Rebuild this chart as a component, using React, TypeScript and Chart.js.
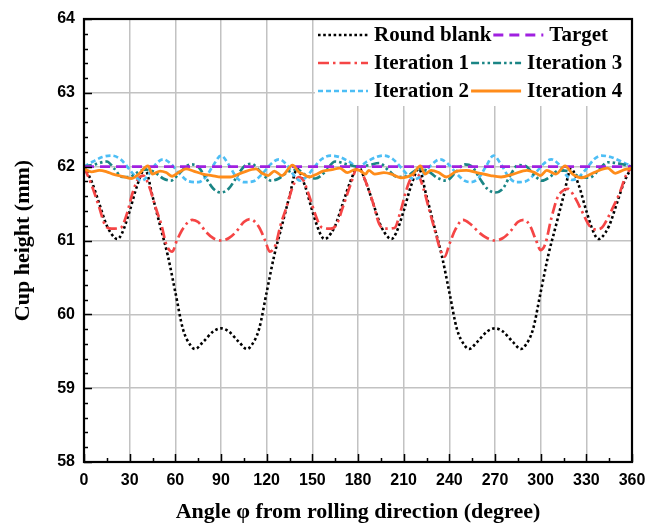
import React, { useEffect, useRef } from 'react';
import { Chart, registerables } from 'chart.js';

Chart.register(...registerables);

// ---------------- data ----------------
const xTicks = [0, 30, 60, 90, 120, 150, 180, 210, 240, 270, 300, 330, 360];
const yTicks = [58, 59, 60, 61, 62, 63, 64];

const blankAngles = [0, 5, 10, 15, 20, 22, 25, 30, 35, 40, 45, 50, 55, 60, 65, 70, 73, 78, 85, 90, 95, 102, 107, 110, 115, 120, 125, 130, 135, 140, 145, 150, 155, 158, 160, 165, 170, 175, 180,
  185, 190, 195, 200, 202, 205, 210, 215, 220, 225, 230, 235, 240, 245, 250, 253, 258, 265, 270, 275, 282, 287, 290, 295, 300, 305, 310, 315, 320, 325, 330, 335, 338, 340, 345, 350, 355, 360];
const blankValues = [62.0, 61.8, 61.5, 61.2, 61.04, 61.02, 61.1, 61.4, 61.75, 61.97, 61.6, 61.2, 60.8, 60.3, 59.8, 59.58, 59.53, 59.62, 59.77, 59.81, 59.77, 59.62, 59.53, 59.58, 59.8, 60.3, 60.8, 61.2, 61.6, 61.97, 61.75, 61.4, 61.1, 61.02, 61.04, 61.2, 61.5, 61.8, 62.0,
  61.8, 61.5, 61.2, 61.04, 61.02, 61.1, 61.4, 61.75, 61.97, 61.6, 61.2, 60.8, 60.3, 59.8, 59.58, 59.53, 59.62, 59.77, 59.81, 59.77, 59.62, 59.53, 59.58, 59.8, 60.3, 60.8, 61.2, 61.6, 61.97, 61.75, 61.4, 61.1, 61.02, 61.04, 61.2, 61.5, 61.8, 62.0];

const targetAngles = [0, 360];
const targetValues = [62, 62];

const iter1Angles = [0, 5, 10, 14, 18, 24, 28, 32, 36, 39, 43, 47, 51, 54, 58, 61, 65, 71, 75, 80, 85, 90, 95, 100, 105, 109, 115, 119, 122, 126, 129, 133, 137, 141, 144, 148, 152, 156, 162, 166, 170, 175, 180,
  185, 190, 194, 198, 204, 208, 212, 216, 219, 223, 227, 231, 234, 237, 240, 244, 249, 254, 260, 265, 270, 275, 280, 285, 289, 293, 297, 300, 303, 307, 311, 315, 318, 322, 327, 332, 336, 340, 344, 348, 352, 356, 360];
const iter1Values = [62.0, 61.75, 61.45, 61.2, 61.16, 61.17, 61.35, 61.65, 61.85, 61.88, 61.72, 61.45, 61.2, 60.95, 60.85, 61.0, 61.16, 61.28, 61.25, 61.12, 61.03, 61.0, 61.03, 61.12, 61.25, 61.29, 61.18, 61.0, 60.85, 60.95, 61.2, 61.45, 61.72, 61.86, 61.82, 61.6, 61.35, 61.18, 61.16, 61.22, 61.45, 61.75, 62.0,
  61.8, 61.5, 61.22, 61.16, 61.17, 61.4, 61.7, 61.88, 61.9, 61.7, 61.4, 61.1, 60.88, 60.78, 60.95, 61.15, 61.28, 61.22, 61.1, 61.03, 61.0, 61.03, 61.12, 61.25, 61.28, 61.2, 61.0, 60.87, 60.95, 61.3, 61.58, 61.68, 61.7, 61.6, 61.4, 61.2, 61.15, 61.17, 61.3, 61.47, 61.65, 61.88, 62.0];

const iter2Angles = [0, 6, 12, 18, 24, 30, 34, 38, 42, 47, 52, 57, 63, 69, 75, 80, 85, 90, 95, 100, 105, 111, 117, 123, 128, 133, 138, 142, 146, 150, 156, 162, 168, 174, 180,
  186, 192, 197, 203, 209, 213, 217, 222, 228, 234, 239, 245, 250, 254, 259, 264, 269, 274, 279, 284, 290, 296, 302, 307, 312, 317, 321, 325, 330, 335, 340, 346, 353, 360];
const iter2Values = [62.0, 62.07, 62.13, 62.15, 62.1, 61.96, 61.86, 61.81, 61.88, 62.03, 62.1, 62.04, 61.9, 61.8, 61.79, 61.86, 62.02, 62.15, 62.03, 61.86, 61.79, 61.8, 61.9, 62.04, 62.1, 62.03, 61.88, 61.81, 61.86, 61.96, 62.1, 62.15, 62.13, 62.07, 62.0,
  62.07, 62.13, 62.15, 62.1, 61.97, 61.88, 61.83, 61.88, 62.02, 62.1, 62.04, 61.9, 61.81, 61.79, 61.84, 62.0, 62.15, 62.03, 61.86, 61.79, 61.8, 61.9, 62.04, 62.1, 62.03, 61.88, 61.82, 61.86, 61.97, 62.1, 62.15, 62.13, 62.07, 62.0];

const iter3Angles = [0, 7, 15, 20, 25, 30, 35, 40, 46, 52, 57, 63, 70, 75, 80, 85, 90, 95, 100, 105, 110, 116, 123, 128, 134, 140, 146, 152, 158, 165, 173, 180,
  187, 194, 200, 206, 212, 220, 226, 232, 238, 244, 250, 255, 260, 265, 270, 275, 280, 285, 290, 296, 301, 306, 312, 318, 325, 332, 338, 344, 352, 360];
const iter3Values = [62.0, 62.03, 62.07, 61.97, 61.86, 61.86, 61.92, 61.96, 61.93, 61.84, 61.81, 61.92, 62.03, 62.0, 61.85, 61.7, 61.65, 61.7, 61.85, 62.0, 62.04, 61.93, 61.81, 61.84, 61.93, 61.96, 61.88, 61.84, 61.92, 62.07, 62.03, 62.0,
  62.02, 62.05, 61.95, 61.86, 61.87, 61.97, 61.94, 61.85, 61.81, 61.92, 62.03, 62.0, 61.84, 61.7, 61.65, 61.7, 61.88, 62.02, 62.01, 61.88, 61.81, 61.86, 61.95, 61.94, 61.87, 61.85, 61.95, 62.06, 62.04, 62.0];

const iter4Angles = [0, 5, 10, 15, 19, 25, 31, 36, 42, 45, 50, 54, 58, 62, 67, 72, 78, 84, 90, 96, 104, 113, 117, 121, 125, 130, 137, 141, 144, 148, 152, 157, 163, 168, 173, 178,
  181, 185, 187, 191, 197, 202, 208, 216, 221, 224, 228, 233, 238, 245, 251, 258, 267, 274, 282, 291, 296, 300, 304, 310, 316, 321, 327, 335, 344, 349, 355, 360];
const iter4Values = [61.97, 61.93, 61.95, 61.93, 61.9, 61.87, 61.84, 61.9, 62.01, 61.9, 61.94, 61.92, 61.87, 61.92, 61.97, 61.94, 61.9, 61.88, 61.86, 61.86, 61.92, 61.97, 61.91, 61.88, 61.94, 61.88, 62.02, 61.93, 61.9, 61.86, 61.89, 61.94, 61.96, 61.98, 61.92, 61.96,
  61.95, 61.9, 61.95, 61.9, 61.92, 61.9, 61.85, 61.9, 62.01, 61.9, 61.95, 61.92, 61.86, 61.94, 61.95, 61.92, 61.88, 61.86, 61.9, 61.95, 61.92, 61.88, 61.95, 61.9, 62.01, 61.9, 61.85, 61.92, 61.98, 61.91, 61.96, 61.98];

const seriesNames = ['Round blank', 'Target', 'Iteration 1', 'Iteration 2', 'Iteration 3', 'Iteration 4'];
const legendRows = [[0, 1], [2, 4], [3, 5]];

// ---------------- helpers ----------------
const zip = (xs: number[], ys: number[]) => xs.map((x, i) => ({ x, y: ys[i] }));

const SERIF = '"Liberation Serif", "Times New Roman", serif';
const SANS = '"Liberation Sans", Arial, sans-serif';

const framePlugin = {
  id: 'frameTicks',
  afterDraw(chart: any) {
    const { ctx, chartArea } = chart;
    const { left, right, top, bottom } = chartArea;
    const ys = chart.scales.y;
    const xs = chart.scales.x;
    ctx.save();
    ctx.strokeStyle = '#000';
    ctx.lineWidth = 1.5;
    ctx.beginPath();
    for (let i = 0; i <= (ys.max - ys.min) * 5; i++) {
      const v = ys.min + i * 0.2;
      const py = Math.round(ys.getPixelForValue(v)) + 0.5;
      const major = i % 5 === 0;
      ctx.moveTo(left, py);
      ctx.lineTo(left + (major ? 8 : 4), py);
    }
    for (let i = 0; i <= (xs.max - xs.min) / 15; i++) {
      const v = xs.min + i * 15;
      const px = Math.round(xs.getPixelForValue(v)) + 0.5;
      const major = i % 2 === 0;
      ctx.moveTo(px, bottom);
      ctx.lineTo(px, bottom - (major ? 8 : 4));
    }
    ctx.stroke();
    ctx.lineWidth = 2.2;
    ctx.strokeRect(left, top, right - left, bottom - top);
    ctx.restore();
  },
};

const legendPlugin = {
  id: 'insideLegend',
  afterDatasetsDraw(chart: any) {
    const { ctx, chartArea } = chart;
    const { right, top } = chartArea;
    const x0 = right - 314;
    ctx.save();
    ctx.fillStyle = '#fff';
    ctx.fillRect(x0 - 3, top + 1, right - x0 + 2, 86);
    ctx.font = `bold 21px ${SERIF}`;
    ctx.textBaseline = 'middle';
    ctx.textAlign = 'left';
    legendRows.forEach((row, r) => {
      const y = top + 16 + r * 28;
      let x = x0;
      row.forEach((di) => {
        const ds = chart.data.datasets[di];
        ctx.save();
        ctx.strokeStyle = ds.borderColor;
        ctx.lineWidth = ds.borderWidth;
        ctx.setLineDash(ds.borderDash || []);
        ctx.beginPath();
        ctx.moveTo(x, y);
        ctx.lineTo(x + 50, y);
        ctx.stroke();
        ctx.restore();
        ctx.fillStyle = '#000';
        ctx.fillText(ds.label, x + 56, y + 1);
        x += 56 + ctx.measureText(ds.label).width + 2;
      });
    });
    ctx.restore();
  },
};

export default function App() {
  const ref = useRef<HTMLCanvasElement>(null);

  useEffect(() => {
    const common = { pointRadius: 0, fill: false, cubicInterpolationMode: 'monotone' as const, borderCapStyle: 'butt' as const };
    const chart = new Chart(ref.current as HTMLCanvasElement, {
      type: 'line',
      data: {
        datasets: [
          { ...common, label: seriesNames[0], data: zip(blankAngles, blankValues), borderColor: '#000000', borderWidth: 2.6, borderDash: [2.6, 2.6], order: 5 },
          { ...common, label: seriesNames[1], data: zip(targetAngles, targetValues), borderColor: '#A020E0', borderWidth: 2.8, borderDash: [10, 6], order: 1 },
          { ...common, label: seriesNames[2], data: zip(iter1Angles, iter1Values), borderColor: '#F54545', borderWidth: 2.7, borderDash: [11, 4, 2.5, 4], order: 4 },
          { ...common, label: seriesNames[3], data: zip(iter2Angles, iter2Values), borderColor: '#4DBEF5', borderWidth: 2.7, borderDash: [5, 3], order: 3 },
          { ...common, label: seriesNames[4], data: zip(iter3Angles, iter3Values), borderColor: '#1A8585', borderWidth: 2.7, borderDash: [8, 3, 2.5, 3, 2.5, 3], order: 2 },
          { ...common, label: seriesNames[5], data: zip(iter4Angles, iter4Values), borderColor: '#FF8C1A', borderWidth: 2.8, order: 0 },
        ],
      },
      options: {
        responsive: false,
        animation: false,
        events: [],
        layout: { padding: { left: 0, right: 24, top: 19, bottom: 0 } },
        plugins: { legend: { display: false }, tooltip: { enabled: false }, title: { display: false } },
        scales: {
          x: {
            type: 'linear',
            min: 0,
            max: 360,
            afterBuildTicks: (s: any) => { s.ticks = xTicks.map((v) => ({ value: v })); },
            afterFit: (s: any) => { s.height = 64; },
            ticks: { color: '#000', padding: 9, font: { family: SANS, weight: 'bold', size: 16 } },
            grid: { color: '#c2c2c2', lineWidth: 1.5, drawTicks: false },
            border: { display: false },
            title: { display: true, text: 'Angle φ from rolling direction (degree)', color: '#000', font: { family: SERIF, weight: 'bold', size: 22 }, padding: { top: 0, bottom: 0 } },
          },
          y: {
            type: 'linear',
            min: 58,
            max: 64,
            afterBuildTicks: (s: any) => { s.ticks = yTicks.map((v) => ({ value: v })); },
            afterFit: (s: any) => { s.width = 84; },
            ticks: { color: '#000', padding: 9, font: { family: SANS, weight: 'bold', size: 16 } },
            grid: { color: '#c2c2c2', lineWidth: 1.5, drawTicks: false },
            border: { display: false },
            title: { display: true, text: 'Cup height (mm)', color: '#000', font: { family: SERIF, weight: 'bold', size: 22 }, padding: { top: 10, bottom: 0 } },
          },
        },
      },
      plugins: [legendPlugin, framePlugin],
    } as any);
    return () => chart.destroy();
  }, []);

  return (
    <div style={{ position: 'fixed', left: 0, top: 0, width: 656, height: 526, background: '#fff' }}>
      <canvas ref={ref} width={656} height={526} style={{ display: 'block', width: 656, height: 526 }} />
    </div>
  );
}
